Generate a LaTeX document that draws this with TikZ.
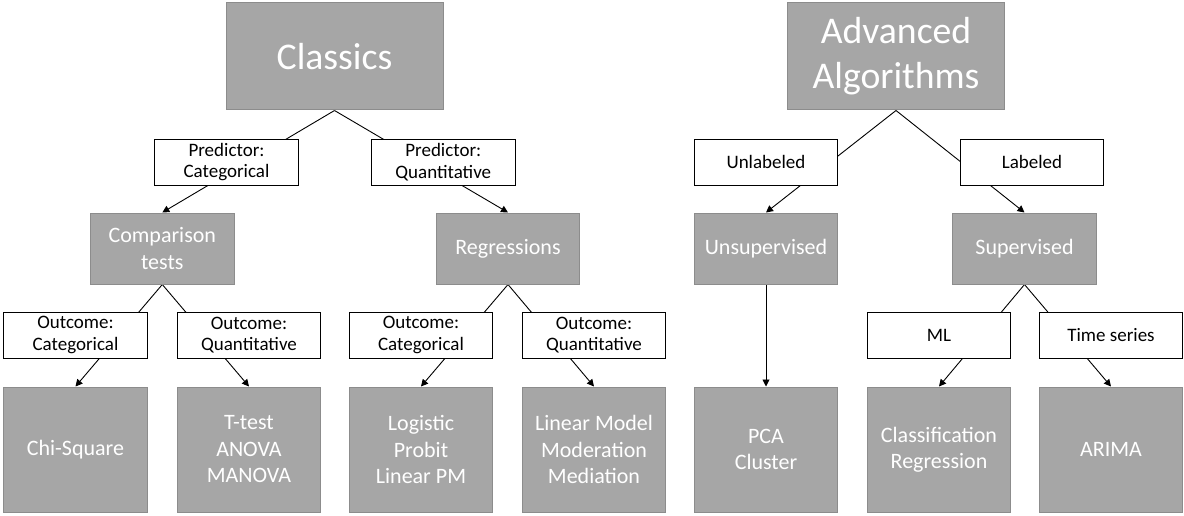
\documentclass[tikz,border=0pt]{standalone}
\usepackage{fontspec}
\setmainfont{Carlito}
\usetikzlibrary{arrows.meta,backgrounds}

\begin{document}
\begin{tikzpicture}[x=1pt,y=-1pt,
	gbox/.style={draw=black!45,fill=black!35,text=white,line width=1pt,align=center,inner sep=0pt,font=\fontsize{22}{26.5}\selectfont},
	headbox/.style={gbox,minimum width=217pt,minimum height=107pt,font=\fontsize{37.7}{45}\selectfont},
	midbox/.style={gbox,minimum width=143.5pt,minimum height=71pt},
	leafbox/.style={gbox,minimum width=143.5pt,minimum height=125pt},
	lblbox/.style={draw=black,fill=white,line width=0.9pt,align=center,inner sep=0pt,minimum width=143.5pt,minimum height=46pt,font=\fontsize{19}{21.5}\selectfont},
	conn/.style={line width=0.9pt,draw=black},
	arr/.style={conn,-{Triangle[length=7pt,width=7pt]}}]
	\useasboundingbox (0,0) rectangle (1184,516);
	\node[headbox] (classics) at (334.5,56.5) {Classics};
	\node[headbox] (advanced) at (896,56.5) {Advanced\\Algorithms};
	\node[lblbox] (predcat) at (226.5,162) {Predictor:\\Categorical};
	\node[lblbox] (predquant) at (443.3,162) {Predictor:\\Quantitative};
	\node[lblbox] (unlabeled) at (766,162) {Unlabeled};
	\node[lblbox] (labeled) at (1032,162) {Labeled};
	\node[midbox] (comparison) at (162.3,248.5) {Comparison\\tests};
	\node[midbox] (regressions) at (508,248.5) {Regressions};
	\node[midbox] (unsupervised) at (766,248.5) {Unsupervised};
	\node[midbox] (supervised) at (1024.5,248.5) {Supervised};
	\node[lblbox] (outcat) at (75.5,335) {Outcome:\\Categorical};
	\node[lblbox] (outquant) at (249,335) {Outcome:\\Quantitative};
	\node[lblbox] (regcat) at (421,335) {Outcome:\\Categorical};
	\node[lblbox] (regquant) at (594,335) {Outcome:\\Quantitative};
	\node[lblbox] (ml) at (939,335) {ML};
	\node[lblbox] (timeseries) at (1111,335) {Time series};
	\node[leafbox] (chisq) at (75.5,449.5) {Chi-Square};
	\node[leafbox] (ttest) at (249,449.5) {T-test\\ANOVA\\MANOVA};
	\node[leafbox] (logistic) at (421,449.5) {Logistic\\Probit\\Linear PM};
	\node[leafbox] (linmodel) at (594,449.5) {Linear Model\\Moderation\\Mediation};
	\node[leafbox] (pca) at (766,449.5) {PCA\\Cluster};
	\node[leafbox] (classif) at (939,449.5) {Classification\\Regression};
	\node[leafbox] (arima) at (1111,449.5) {ARIMA};
	\begin{scope}[on background layer]
		\draw[arr] (classics.south) -- (comparison.north);
		\draw[arr] (classics.south) -- (regressions.north);
		\draw[arr] (advanced.south) -- (unsupervised.north);
		\draw[arr] (advanced.south) -- (supervised.north);
		\draw[arr] (comparison.south) -- (chisq.north);
		\draw[arr] (comparison.south) -- (ttest.north);
		\draw[arr] (regressions.south) -- (logistic.north);
		\draw[arr] (regressions.south) -- (linmodel.north);
		\draw[arr] (unsupervised.south) -- (pca.north);
		\draw[arr] (supervised.south) -- (classif.north);
		\draw[arr] (supervised.south) -- (arima.north);
	\end{scope}
\end{tikzpicture}
\end{document}
